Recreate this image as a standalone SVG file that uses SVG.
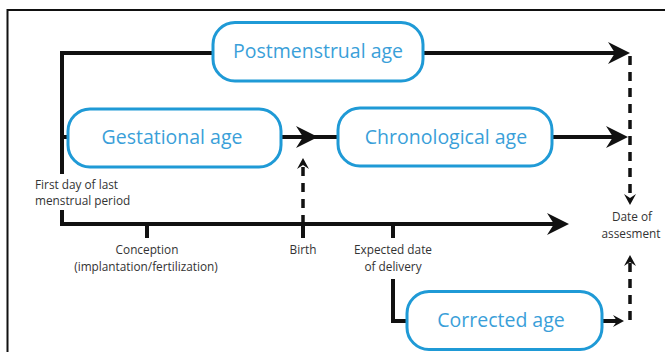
<svg xmlns="http://www.w3.org/2000/svg" width="665" height="352" viewBox="0 0 665 352">
  <style>
    .frame { fill: none; stroke: #111; stroke-width: 2; }
    .line { fill: none; stroke: #111; stroke-width: 4; }
    .dash { fill: none; stroke: #111; stroke-width: 3.5; stroke-dasharray: 9 7; }
    .box { fill: #fff; stroke: #1f9ad6; stroke-width: 3; }
    .boxlabel { font-family: "Open Sans", "Noto Sans", sans-serif; font-size: 19.5px; fill: #3a9fd9; text-anchor: middle; }
    .label { font-family: "Open Sans", "Noto Sans", sans-serif; font-size: 11.8px; fill: #333; }
    .mid { text-anchor: middle; }
  </style>
  <defs>
    <marker id="arrowBig" markerUnits="userSpaceOnUse" viewBox="-23 -12 24 24" refX="-14" refY="0" markerWidth="24" markerHeight="24" orient="auto">
      <path d="M0,0 L-22,-11 L-15,0 L-22,11 Z" fill="#111"/>
    </marker>
    <marker id="arrowSmall" markerUnits="userSpaceOnUse" viewBox="-11 -7 12 14" refX="-6" refY="0" markerWidth="12" markerHeight="14" orient="auto">
      <path d="M0,0 L-11,-6 L-7,0 L-11,6 Z" fill="#111"/>
    </marker>
  </defs>

  <!-- page frame -->
  <path class="frame" d="M7.5,352 V10 H665"/>

  <g id="connectors">
    <!-- postmenstrual row -->
    <path class="line" d="M62,174 V53 H213"/>
    <path class="line" d="M423,53 H616" marker-end="url(#arrowBig)"/>
    <!-- gestational / chronological row -->
    <path class="line" d="M62,137 H70"/>
    <path class="line" d="M280,137 H304" marker-end="url(#arrowBig)"/>
    <path class="line" d="M304,137 H340"/>
    <path class="line" d="M550,137 H614" marker-end="url(#arrowBig)"/>
    <!-- time axis -->
    <path class="line" d="M62,210 V224 H555" marker-end="url(#arrowBig)"/>
    <path class="line" d="M147,224 V238"/>
    <path class="line" d="M303,224 V238"/>
    <path class="line" d="M393,224 V238"/>
    <!-- birth marker -->
    <path class="dash" d="M303,224 V164" marker-end="url(#arrowSmall)"/>
    <!-- to date of assessment -->
    <path class="dash" d="M630,56 V199" marker-end="url(#arrowSmall)"/>
    <path class="dash" d="M630,320 V261" marker-end="url(#arrowSmall)"/>
    <!-- corrected age -->
    <path class="line" d="M393,279 V321 H410"/>
    <path class="line" d="M600,321 H618" marker-end="url(#arrowSmall)"/>
  </g>

  <g id="postmenstrual">
    <rect class="box" x="213" y="22.5" width="210" height="58.5" rx="22"/>
    <text class="boxlabel" x="318" y="58">Postmenstrual age</text>
  </g>
  <g id="gestational">
    <rect class="box" x="68" y="109" width="213" height="58" rx="22"/>
    <text class="boxlabel" x="172" y="144">Gestational age</text>
  </g>
  <g id="chronological">
    <rect class="box" x="338" y="108" width="214" height="58" rx="22"/>
    <text class="boxlabel" x="446" y="144">Chronological age</text>
  </g>
  <g id="corrected">
    <rect class="box" x="407" y="291.5" width="195" height="58" rx="22"/>
    <text class="boxlabel" x="501" y="327">Corrected age</text>
  </g>

  <g id="lmp">
    <text class="label" x="35" y="189">First day of last</text>
    <text class="label" x="35" y="205">menstrual period</text>
  </g>
  <g id="conception">
    <text class="label mid" x="147" y="254">Conception</text>
    <text class="label mid" x="146" y="271">(implantation/fertilization)</text>
  </g>
  <g id="birth">
    <text class="label mid" x="303" y="254">Birth</text>
  </g>
  <g id="edd">
    <text class="label mid" x="393" y="254">Expected date</text>
    <text class="label mid" x="393" y="271">of delivery</text>
  </g>
  <g id="assessment">
    <text class="label mid" x="632" y="221">Date of</text>
    <text class="label mid" x="631" y="238">assesment</text>
  </g>
</svg>
